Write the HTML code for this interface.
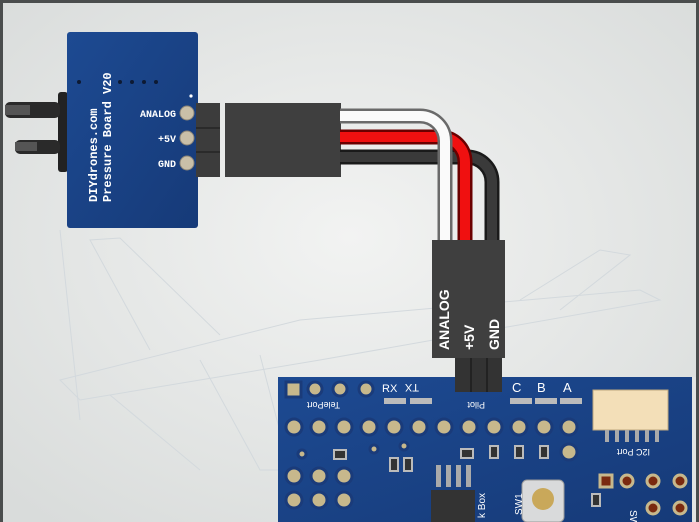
<!DOCTYPE html>
<html><head><meta charset="utf-8"><style>
html,body{margin:0;padding:0;width:699px;height:522px;overflow:hidden;background:#555}
</style></head><body>
<svg width="699" height="522" viewBox="0 0 699 522" xmlns="http://www.w3.org/2000/svg" font-family="Liberation Mono, monospace">
<defs>
<radialGradient id="bg" cx="50%" cy="45%" r="70%"><stop offset="0" stop-color="#f2f3f2"/><stop offset="1" stop-color="#d9dcdb"/></radialGradient>
<linearGradient id="pcb" x1="0" y1="0" x2="1" y2="1"><stop offset="0" stop-color="#1d4a92"/><stop offset="1" stop-color="#163a78"/></linearGradient>
</defs>
<rect x="0" y="0" width="699" height="522" fill="#4a4d4d"/>
<rect x="3" y="3" width="693" height="519" fill="url(#bg)"/>
<g stroke="#d3d9dd" stroke-width="1" fill="none">
<path d="M60 380 L300 320 L640 290 L660 300 L320 360 L80 400 Z"/>
<path d="M150 350 L90 240 L120 238 L220 335"/>
<path d="M520 300 L600 250 L630 255 L560 310"/>
<path d="M60 230 L80 420"/>
<path d="M200 360 L260 470 L290 470 L260 355"/>
<path d="M110 395 L200 470"/>
</g>
<rect x="58" y="92" width="10" height="80" rx="3" fill="#222"/>
<rect x="5" y="102" width="55" height="16" rx="5" fill="#2a2a2a"/>
<rect x="5" y="105" width="25" height="10" fill="#555"/>
<rect x="15" y="140" width="45" height="14" rx="5" fill="#2a2a2a"/>
<rect x="15" y="142" width="22" height="9" fill="#555"/>
<rect x="67" y="32" width="131" height="196" rx="3" fill="url(#pcb)"/>
<g fill="#0d1a33"><circle cx="79" cy="82" r="2"/><circle cx="120" cy="82" r="2"/><circle cx="132" cy="82" r="2"/><circle cx="144" cy="82" r="2"/><circle cx="156" cy="82" r="2"/></g>
<circle cx="191" cy="96" r="1.6" fill="#fff"/>
<text transform="translate(97,202) rotate(-90)" font-size="12" font-weight="bold" fill="#fff">DIYdrones.com</text>
<text transform="translate(111,202) rotate(-90)" font-size="12" font-weight="bold" fill="#fff">Pressure Board V20</text>
<g font-size="10" font-weight="bold" fill="#fff" text-anchor="end"><text x="176" y="117">ANALOG</text><text x="176" y="142">+5V</text><text x="176" y="167">GND</text></g>
<g fill="#c9bfa8" stroke="#8c8577"><circle cx="187" cy="113" r="7"/><circle cx="187" cy="138" r="7"/><circle cx="187" cy="163" r="7"/></g>
<rect x="196" y="103" width="24" height="74" fill="#3c3c3c"/>
<g stroke="#2a2a2a" stroke-width="2"><line x1="196" y1="128" x2="220" y2="128"/><line x1="196" y1="152" x2="220" y2="152"/></g>
<rect x="225" y="103" width="116" height="74" fill="#3f3f3f"/>
<g fill="none" stroke-width="15" stroke-linecap="butt">
<path d="M340 157 H467 A25 25 0 0 1 492 182 V242" stroke="#1a1a1a"/>
<path d="M340 157 H467 A25 25 0 0 1 492 182 V242" stroke="#3a3a3a" stroke-width="10"/>
<path d="M340 137 H440 A25 25 0 0 1 465 162 V242" stroke="#6a0000"/>
<path d="M340 137 H440 A25 25 0 0 1 465 162 V242" stroke="#f01010" stroke-width="10"/>
<path d="M340 116 H420 A25 25 0 0 1 445 141 V242" stroke="#6a6a6a"/>
<path d="M340 116 H420 A25 25 0 0 1 445 141 V242" stroke="#fafafa" stroke-width="10"/>
</g>
<rect x="432" y="240" width="73" height="118" fill="#3f3f3f"/>
<g font-family="Liberation Sans, sans-serif" font-size="14" font-weight="bold" fill="#fff">
<text transform="translate(449,350) rotate(-90)">ANALOG</text>
<text transform="translate(474,350) rotate(-90)">+5V</text>
<text transform="translate(499,350) rotate(-90)">GND</text>
</g>
<rect x="278" y="377" width="414" height="145" fill="url(#pcb)"/>
<rect x="692" y="377" width="4" height="145" fill="#e2e4e3"/>
<g fill="#bbb"><rect x="384" y="398" width="22" height="6"/><rect x="410" y="398" width="22" height="6"/><rect x="510" y="398" width="22" height="6"/><rect x="535" y="398" width="22" height="6"/><rect x="560" y="398" width="22" height="6"/></g>
<g font-family="Liberation Sans, sans-serif" fill="#fff" font-size="11"><text x="382" y="392">RX</text><text x="405" y="392" transform="rotate(180 412 388)">TX</text><text x="512" y="392" font-size="13">C</text><text x="537" y="392" font-size="13">B</text><text x="563" y="392" font-size="13">A</text>
<text x="300" y="408" font-size="9" transform="rotate(180 320 405)">TelePort</text><text x="455" y="408" font-size="9" transform="rotate(180 470 405)">Pilot</text></g>
<g fill="#c7b88c" stroke="#1a3b7a" stroke-width="3">
<rect x="286" y="382" width="15" height="15"/>
<circle cx="315" cy="389" r="7"/><circle cx="340" cy="389" r="7"/><circle cx="366" cy="389" r="7"/>
<circle cx="294" cy="427" r="8"/><circle cx="319" cy="427" r="8"/><circle cx="344" cy="427" r="8"/><circle cx="369" cy="427" r="8"/><circle cx="394" cy="427" r="8"/><circle cx="419" cy="427" r="8"/><circle cx="444" cy="427" r="8"/><circle cx="469" cy="427" r="8"/><circle cx="494" cy="427" r="8"/><circle cx="519" cy="427" r="8"/><circle cx="544" cy="427" r="8"/><circle cx="569" cy="427" r="8"/><circle cx="569" cy="452" r="8"/>
<circle cx="294" cy="476" r="8"/><circle cx="319" cy="476" r="8"/><circle cx="344" cy="476" r="8"/>
<circle cx="294" cy="500" r="8"/><circle cx="319" cy="500" r="8"/><circle cx="344" cy="500" r="8"/>
<circle cx="302" cy="454" r="4"/><circle cx="374" cy="449" r="4"/><circle cx="404" cy="446" r="4"/>
</g>
<g fill="#7a2a10" stroke="#c7b88c" stroke-width="3"><rect x="600" y="475" width="12" height="12"/><circle cx="627" cy="481" r="6"/><circle cx="653" cy="481" r="6"/><circle cx="680" cy="481" r="6"/><circle cx="653" cy="508" r="6"/><circle cx="680" cy="508" r="6"/></g>
<rect x="455" y="358" width="47" height="34" fill="#333"/>
<g stroke="#222" stroke-width="2"><line x1="471" y1="358" x2="471" y2="392"/><line x1="487" y1="358" x2="487" y2="392"/></g>
<g fill="#333" stroke="#bbb" stroke-width="2"><rect x="334" y="450" width="12" height="9"/><rect x="461" y="449" width="12" height="9"/><rect x="490" y="446" width="8" height="12"/><rect x="515" y="446" width="8" height="12"/><rect x="540" y="446" width="8" height="12"/><rect x="390" y="458" width="8" height="13"/><rect x="404" y="458" width="8" height="13"/><rect x="592" y="494" width="8" height="12"/></g>
<g fill="#aaa"><rect x="436" y="465" width="5" height="22"/><rect x="446" y="465" width="5" height="22"/><rect x="456" y="465" width="5" height="22"/><rect x="466" y="465" width="5" height="22"/></g>
<rect x="431" y="490" width="44" height="32" fill="#333"/>
<rect x="522" y="480" width="42" height="42" rx="5" fill="#d9dadb" stroke="#999"/>
<circle cx="543" cy="499" r="11" fill="#c9a85a"/>
<text transform="translate(522,515) rotate(-90)" font-family="Liberation Sans, sans-serif" font-size="10" fill="#fff">SW1</text>
<text transform="translate(485,518) rotate(-90)" font-family="Liberation Sans, sans-serif" font-size="10" fill="#fff">k Box</text>
<text transform="translate(630,510) rotate(90)" font-family="Liberation Sans, sans-serif" font-size="10" fill="#fff">SW1</text>
<rect x="593" y="390" width="75" height="40" fill="#f3dfb8" stroke="#bda77e"/>
<g fill="#aaa"><rect x="605" y="430" width="4" height="12"/><rect x="615" y="430" width="4" height="12"/><rect x="625" y="430" width="4" height="12"/><rect x="635" y="430" width="4" height="12"/><rect x="645" y="430" width="4" height="12"/><rect x="655" y="430" width="4" height="12"/></g>
<text x="610" y="455" font-family="Liberation Sans, sans-serif" font-size="9" fill="#fff" transform="rotate(180 630 452)">I2C Port</text>
</svg>
</body></html>
